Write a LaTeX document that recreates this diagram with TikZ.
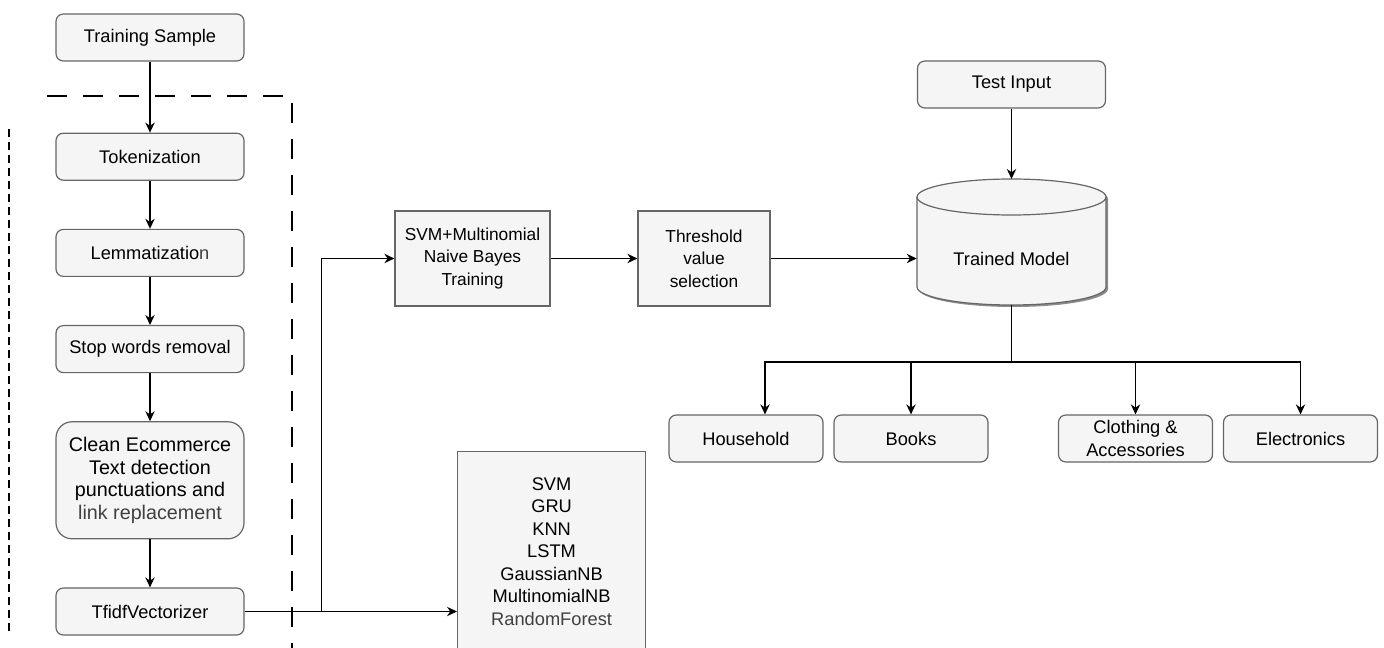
\documentclass[tikz,border=0pt]{standalone}
\usepackage{fontspec}
\setmainfont{Liberation Sans}
\usepackage{xcolor}
\usetikzlibrary{arrows.meta, positioning}
\definecolor{boxfill}{HTML}{F5F5F5}
\definecolor{boxline}{HTML}{666666}
\definecolor{softtext}{HTML}{404040}

\begin{document}
\begin{tikzpicture}[
  x=0.75pt, y=-0.75pt,
  node distance=36pt,
  box/.style={rectangle, draw=boxline, fill=boxfill, line width=0.9pt, align=center,
              minimum width=141pt, minimum height=35.25pt, inner sep=2pt,
              font=\fontsize{13.7}{16.9}\selectfont},
  stepBox/.style={box, rounded corners=5.5pt},
  cleanBox/.style={stepBox, rounded corners=12pt, minimum height=87.75pt,
                   font=\fontsize{14.8}{17.1}\selectfont},
  fitBox/.style={box, minimum width=116.25pt, minimum height=71.25pt,
                 font=\fontsize{13}{16.9}\selectfont},
  catBox/.style={stepBox, minimum width=115.5pt},
  arr/.style={-{Stealth[length=7.5pt, width=7pt]}, line width=1pt}
]
\useasboundingbox (0,0) rectangle (1384,648);

% preprocessing column
\node[stepBox] (train) at (150,37.5) {Training Sample};
\node[stepBox, below=53.25pt of train] (tok) {Tokenization};
\node[stepBox, below=of tok] (lem) {Lemmatizatio{\color{softtext}n}};
\node[stepBox, below=of lem] (stop) {Stop words removal};
\node[cleanBox, below=of stop] (clean) {Clean Ecommerce\\Text detection\\punctuations and\\{\color{softtext}link replacement}};
\node[stepBox, below=of clean] (tfidf) {TfidfVectorizer};

% dashed frames
\draw[line width=1.6pt, dash pattern=on 15pt off 12pt] (47,96) -- (292,96) -- (292,660);
\draw[line width=1.6pt, dash pattern=on 6pt off 3.75pt] (9,129) -- (9,633);

% training and model
\node[fitBox] (svm) at (472.5,258.5) {SVM+Multinomial\\Naive Bayes\\Training};
\node[fitBox, minimum width=99pt] (thr) at (704,258.5) {Threshold\\value\\selection};
\node[stepBox] (test) at (1011.5,84.5) {Test Input};

\fill[black!45, xshift=1.5pt, yshift=-1.5pt] (917,197) -- (917,287)
  arc[start angle=180, end angle=360, x radius=70.875pt, y radius=13.5pt] -- (1106,197)
  arc[start angle=0, end angle=180, x radius=70.875pt, y radius=13.5pt] -- cycle;
\filldraw[draw=boxline, fill=boxfill, line width=0.9pt] (917,197) -- (917,287)
  arc[start angle=180, end angle=360, x radius=70.875pt, y radius=13.5pt] -- (1106,197)
  arc[start angle=0, end angle=180, x radius=70.875pt, y radius=13.5pt] -- cycle;
\draw[boxline, line width=0.9pt] (917,197)
  arc[start angle=180, end angle=360, x radius=70.875pt, y radius=13.5pt];
\node[font=\fontsize{13.7}{16.9}\selectfont, minimum width=141.75pt, inner sep=0pt] (model) at (1011.5,258.5) {Trained Model};
\coordinate (mtop) at (1011.5,179);
\coordinate (mbot) at (1011.5,305);

% categories
\node[catBox] (house) at (746,438.5) {Household};
\node[catBox] (books) at (911,438.5) {Books};
\node[catBox] (cloth) at (1135.5,438.5) {Clothing \&\\Accessories};
\node[catBox] (elec) at (1300.5,438.5) {Electronics};

% other models
\node[box, anchor=north west, minimum height=150pt] (models) at (457,451)
  {SVM\\GRU\\KNN\\LSTM\\GaussianNB\\MultinomialNB\\{\color{softtext}RandomForest}};

% connectors
\foreach \i/\j in {train/tok,tok/lem,lem/stop,stop/clean,clean/tfidf,svm/thr,thr/model}
  \draw[arr] (\i) -- (\j);
\draw[arr] (tfidf.east) -- (tfidf.east -| models.west);
\draw[arr] (tfidf.east) -- ++(77,0) |- (svm.west);
\draw[arr] (test) -- (mtop);
\draw[line width=1pt] (mbot) -- ++(0,57) coordinate (bus);
\draw[arr] (bus) -| ([xshift=14.25pt]house.north);
\foreach \c in {books,cloth,elec}
  \draw[arr] (bus) -| (\c.north);
\end{tikzpicture}
\end{document}
